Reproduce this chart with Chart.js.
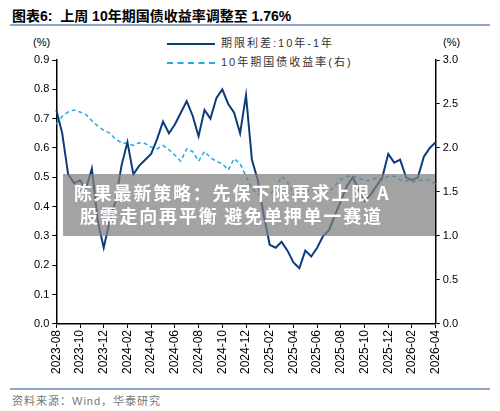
<!DOCTYPE html>
<html>
<head>
<meta charset="utf-8">
<script src="https://cdn.jsdelivr.net/npm/chart.js@4"></script>
<style>
  body { margin: 0; width: 500px; height: 411px; background: #fff; position: relative; overflow: hidden; font-family: "Liberation Sans", "Noto Sans CJK SC", sans-serif; }
  #title { position: absolute; left: 12px; top: 5px; font-size: 14px; font-weight: bold; color: #000; }
  #title-line { position: absolute; left: 10px; right: 10px; top: 24px; height: 2px; background: #8fa6c6; }
  .unit { position: absolute; top: 36px; font-size: 11px; color: #000; }
  #legend { position: absolute; left: 167px; top: 34px; font-size: 11px; color: #333; line-height: 19px; letter-spacing: 2px; }
  .sw { display: inline-block; width: 48px; height: 0; vertical-align: middle; margin-right: 6px; }
  #chart-wrap { position: absolute; left: 0; top: 50px; width: 500px; height: 338px; }
  #band { position: absolute; left: 63px; top: 174px; width: 372px; height: 62px; background: rgba(128,128,128,0.72); color: #fff; font-weight: bold; font-size: 18px; letter-spacing: 1.8px; line-height: 23px; padding: 7px 0 0 11px; box-sizing: border-box; white-space: nowrap; overflow: hidden; font-family: "Noto Sans CJK SC", sans-serif; }
  #foot-line { position: absolute; left: 10px; right: 10px; top: 388px; height: 2px; background: #8fa6c6; }
  #source { position: absolute; left: 12px; top: 392px; font-size: 11px; color: #777; letter-spacing: 1px; }
</style>
</head>
<body>
<div id="title">图表6:&nbsp;&nbsp;上周 10年期国债收益率调整至 1.76%</div>
<div id="title-line"></div>
<div class="unit" style="left:33px">(%)</div>
<div class="unit" style="left:443px">(%)</div>
<div id="legend">
  <div><span class="sw" style="border-top:2px solid #0d3c7a"></span>期限利差:10年-1年</div>
  <div><span class="sw" style="border-top:2px dashed #1fa9e6"></span>10年期国债收益率(右)</div>
</div>
<div id="chart-wrap"><canvas id="chart"></canvas></div>
<div id="band">陈果最新策略：先保下限再求上限 A<br>&nbsp;股需走向再平衡 避免单押单一赛道</div>
<div id="foot-line"></div>
<div id="source">资料来源：Wind，华泰研究</div>
<script>
const MONTHS = ['2023-08','2023-09','2023-10','2023-11','2023-12','2024-01','2024-02','2024-03','2024-04','2024-05','2024-06','2024-07','2024-08','2024-09','2024-10','2024-11','2024-12','2025-01','2025-02','2025-03','2025-04','2025-05','2025-06','2025-07','2025-08','2025-09','2025-10','2025-11','2025-12','2026-01','2026-02','2026-03','2026-04'];
// half-month points: each month then its midpoint
const SPREAD = [0.73,0.65, 0.51,0.48, 0.49,0.46, 0.53,0.35, 0.26,0.35, 0.42,0.54, 0.62,0.51, 0.54,0.56, 0.58,0.63, 0.69,0.65, 0.68,0.72, 0.76,0.71, 0.64,0.73, 0.70,0.77, 0.80,0.75, 0.72,0.65, 0.78,0.56, 0.49,0.37, 0.27,0.26, 0.28,0.25, 0.21,0.19, 0.25,0.23, 0.26,0.30, 0.32,0.37, 0.42,0.47, 0.50,0.46, 0.42,0.44, 0.47,0.50, 0.58,0.55, 0.56,0.50, 0.49,0.50, 0.57,0.60, 0.62];
const YIELD10 = [2.27,2.36, 2.41,2.43, 2.41,2.38, 2.31,2.25, 2.20,2.17, 2.10,2.06, 2.05,2.03, 2.06,2.05, 2.01,1.99, 2.03,1.98, 1.92,1.85, 1.99,1.96, 1.85,1.96, 1.89,1.85, 1.82,1.75, 1.88,1.82, 1.68,1.54, 1.47,1.47, 1.47,1.54, 1.68,1.61, 1.47,1.47, 1.50,1.54, 1.50,1.47, 1.50,1.57, 1.64,1.68, 1.68,1.66, 1.63,1.63, 1.66,1.64, 1.68,1.68, 1.64,1.63, 1.61,1.63, 1.64,1.63, 1.59];
const LABELS = [];
MONTHS.forEach((m, i) => { LABELS.push(m); if (i < MONTHS.length - 1) LABELS.push(''); });

const axisFont = { family: 'Liberation Sans', size: 12 };
new Chart(document.getElementById('chart'), {
  type: 'line',
  data: {
    labels: LABELS,
    datasets: [
      { data: SPREAD, yAxisID: 'y', borderColor: '#0d3c7a', borderWidth: 2, pointRadius: 0, tension: 0 },
      { data: YIELD10, yAxisID: 'y1', borderColor: '#1fa9e6', borderWidth: 1.5, borderDash: [4, 3], pointRadius: 0, tension: 0 },
    ],
  },
  options: {
    responsive: true,
    maintainAspectRatio: false,
    animation: false,
    layout: { padding: { top: 10, left: 31, right: 39, bottom: 12 } },
    plugins: { legend: { display: false }, tooltip: { enabled: false } },
    scales: {
      x: {
        offset: false,
        grid: { drawOnChartArea: false, tickColor: (c) => (c.index % 4 === 0 ? '#000' : 'transparent'), tickLength: 4 },
        border: { color: '#000', width: 1.5 },
        ticks: { autoSkip: false, maxRotation: 90, minRotation: 90, color: '#000', font: axisFont, padding: 2,
          callback: (v, i) => (i % 4 === 0 ? LABELS[i] : '') },
      },
      y: {
        min: 0, max: 0.9,
        grid: { drawOnChartArea: false, tickColor: '#000', tickLength: 4 },
        border: { color: '#000', width: 1.5 },
        ticks: { stepSize: 0.1, color: '#000', font: { family: 'Liberation Sans', size: 11 }, callback: (v) => v.toFixed(1) },
      },
      y1: {
        position: 'right', min: 0, max: 3,
        grid: { drawOnChartArea: false, tickColor: '#000', tickLength: 4 },
        border: { color: '#000', width: 1.5 },
        ticks: { stepSize: 0.5, color: '#000', font: { family: 'Liberation Sans', size: 11 }, callback: (v) => v.toFixed(1) },
      },
    },
  },
});
</script>
</body>
</html>
